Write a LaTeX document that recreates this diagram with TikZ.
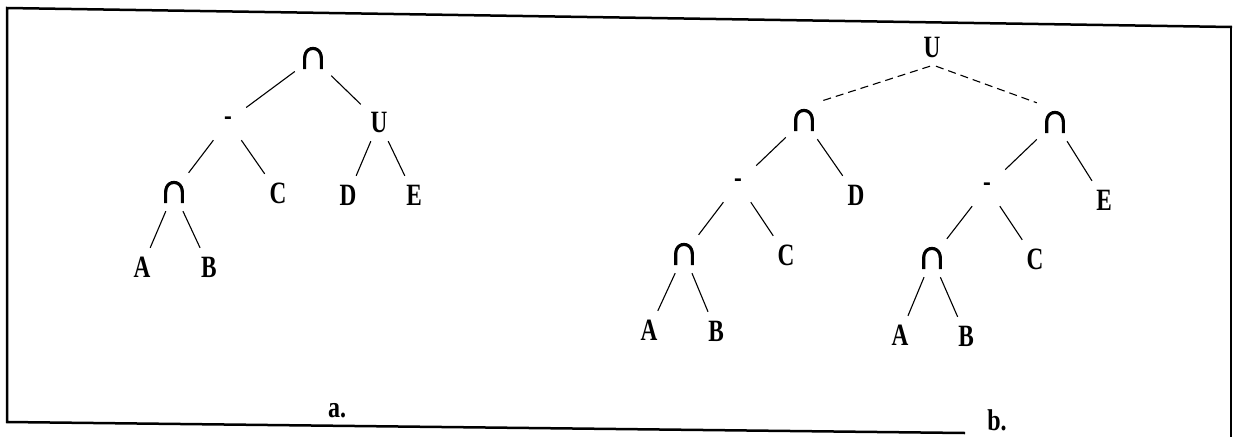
\documentclass[tikz,border=0pt]{standalone}
\usepackage{fontspec}
\usepackage{tikz}
\newfontfamily\treefont{Liberation Serif}[FakeStretch=0.75]
\newfontfamily\labfont{Liberation Serif}[FakeStretch=0.8]
\newfontfamily\isectfont{Liberation Serif}[FakeBold=2.5]
\newcommand{\isect}{{\isectfont\fontsize{42}{42}\selectfont ∩}}

\begin{document}
\begin{tikzpicture}[x=1pt,y=-1pt,
    tnode/.style={font=\treefont\bfseries\fontsize{31}{36}\selectfont,minimum width=36pt,minimum height=38pt,inner sep=0pt},
    figlabel/.style={font=\labfont\bfseries\fontsize{30}{34}\selectfont,inner sep=0pt},
    edge/.style={line width=1.1pt}]
    \useasboundingbox (0,0) rectangle (1234,437);
    % frame
    \draw[line width=2.5pt] (965,433)--(7,422)--(7,8)--(1232,27);
    \draw[line width=2.5pt] (1231,27)--(1231,437);
    % tree a
    \foreach \n/\x/\y/\t in {aR/313/58/\isect,aM/228/121/-,aU/379/122/U,aI/174/192/\isect,aC/278/193/C,aD/348/195/D,aE/414/195/E,aA/142/267/A,aB/209/267/B}{
    \node[tnode] (\n) at(\x,\y){\t};
    }
    % tree b
    \foreach \n/\x/\y/\t in {bR/932/47/U,bL/804/120/\isect,bN/1055/122/\isect,bLm/738/183/-,bD/856/195/D,bNm/987/187/-,bE/1104/200/E,bLI/684/254/\isect,bLC/786/255/C,bNI/932/258/\isect,bNC/1035/259/C,bLA/649/330/A,bLB/716/331/B,bNA/900/335/A,bNB/966/336/B}{
    \node[tnode] (\n) at(\x,\y){\t};
    }
    \foreach \p/\c in {aR/aM,aR/aU,aM/aI,aM/aC,aU/aD,aU/aE,aI/aA,aI/aB,bL/bLm,bL/bD,bN/bNm,bN/bE,bLm/bLI,bLm/bLC,bNm/bNI,bNm/bNC,bLI/bLA,bLI/bLB,bNI/bNA,bNI/bNB}{
    \draw[edge] (\p)--(\c);
    }
    \draw[edge,dash pattern=on 8pt off 5pt] ([xshift=-2pt]bR.south)--(bL.north east) ([xshift=4pt]bR.south)--(bN.north west);
    \node[figlabel] (la) at(337,411){a.};
    \node[figlabel] (lb) at(997,420){b.};
\end{tikzpicture}
\end{document}
